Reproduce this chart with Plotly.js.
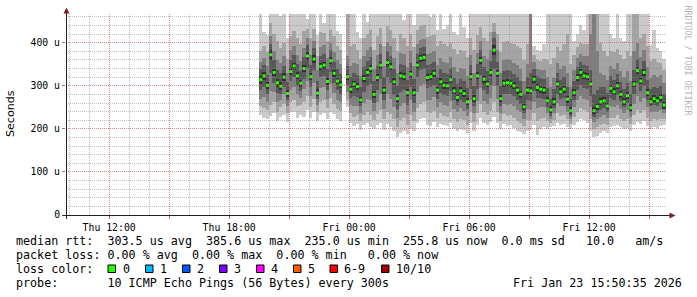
<!DOCTYPE html>
<html><head><meta charset="utf-8">
<script src="https://cdn.plot.ly/plotly-3.0.1.min.js"></script>
<style>html,body{margin:0;padding:0;background:#fff;}#chart{width:697px;height:297px;}</style>
</head><body><div id="chart"></div>
<script>
// 10-minute steps, first step centred on Thu 2026-01-22 19:35
const firstStep = '2026-01-22T19:35:00Z';
const stepMinutes = 10;

// sorted ping values (microseconds), ping1 = lowest ... ping10 = highest
const ping1 = [232,226,222,230,236,219,228,232,216,238, 240,226,232,228,244,226,238,218,232,236, 222,240,234,222,218,null,250,214,206,212,
 198,208,214,204,200,210,214,198,212,204, 196,182,190,196,188,200,196,214,222,226, 210,206,216,204,212,208,206,214,200,194,
 200,198,190,214,196,210,226,214,208,216, 228,214,200,212,206,208,202,196,192,188, 196,198,210,186,200,204,200,204,206,214,
 210,212,204,200,208,216,222,220,214,196, 180,184,190,194,190,204,206,210,204,200, 202,196,210,216,212,218,206,200,204,202, 206,208];
const ping2 = [252,248,244,256,262,240,250,258,236,262, 268,252,255,262,276,250,270,238,262,266, 248,272,258,246,242,null,268,236,228,232,
 218,232,240,232,220,234,244,222,240,234, 222,204,220,226,210,232,218,248,258,262, 238,236,242,226,236,230,228,238,222,216,
 224,220,210,240,216,236,258,238,232,242, 262,240,218,234,230,232,226,218,214,206, 220,220,236,218,224,226,218,214,220,236,
 230,232,222,212,228,240,248,244,240,222, 200,204,210,212,208,226,226,232,224,218, 222,212,232,244,236,244,226,218,222,220, 224,222];
const ping3 = [270,275,262,288,286,262,268,280,252,290, 298,280,272,292,312,276,306,256,294,296, 270,304,284,268,262,null,286,256,252,254,
 236,260,270,266,242,262,280,246,280,270, 250,226,254,260,234,266,240,286,300,304, 268,266,274,250,262,256,254,264,246,238,
 248,242,230,266,236,264,294,264,258,272, 300,270,236,258,256,258,252,244,238,222, 246,244,262,248,250,250,236,222,236,260,
 252,254,240,222,250,266,276,270,266,250, 216,222,228,232,226,252,250,256,246,236, 244,228,258,276,262,272,250,238,240,238, 244,236];
const ping4 = [290,296,282,330,306,284,282,298,266,310, 320,300,288,316,342,298,336,270,320,322, 290,332,306,290,280,null,302,272,276,274,
 252,286,300,304,260,290,316,266,320,306, 278,246,286,290,256,296,260,320,336,338, 294,296,302,270,284,278,276,288,266,256,
 268,262,246,292,254,292,326,290,282,302, 340,300,252,282,280,282,276,266,258,236, 268,264,288,272,272,270,250,230,248,282,
 270,272,254,230,268,290,302,294,292,276, 228,236,244,248,240,272,268,278,264,250, 260,238,280,306,288,300,268,252,256,252, 260,246];
const ping5 = [305,314,293,360,322,298,291,311,275,324, 338,315,298,332,360,313,353,276,337,340, 302,350,321,303,294,null,314,284,296,290,
 260,309,323,332,272,311,340,282,346,336, 301,262,315,313,276,319,276,340,356,358, 311,313,321,282,301,293,292,306,280,265,
 280,274,255,313,262,315,351,307,296,323, 372,321,262,298,299,298,292,282,272,244, 282,280,307,288,284,282,257,236,255,296,
 278,284,261,234,276,311,323,315,313,296, 234,244,255,257,245,286,278,292,272,255, 269,241,296,327,303,323,276,255,262,257, 265,247];
const ping6 = [322,331,309,382,340,316,308,329,290,342, 354,331,314,348,378,329,371,292,353,356, 318,366,337,319,310,null,328,300,312,306,
 275,325,339,348,288,327,356,298,362,352, 317,278,331,329,292,335,292,356,372,374, 327,329,337,298,317,309,308,322,296,281,
 296,290,271,329,278,331,367,323,312,339, 394,337,278,314,315,314,308,298,288,258, 298,296,323,304,300,298,273,252,271,312,
 294,300,277,250,292,327,339,331,329,312, 250,260,271,273,261,302,294,308,288,271, 285,257,312,343,319,339,292,271,278,273, 281,263];
const ping7 = [338,348,326,398,360,336,330,346,308,360, 372,350,334,366,394,348,388,312,370,374, 338,382,356,338,328,null,346,320,330,326,
 296,344,358,366,310,346,374,320,380,370, 338,300,350,348,314,354,316,374,388,390, 348,350,356,320,338,330,328,342,318,304,
 316,312,294,348,300,350,384,344,334,358, 410,356,300,334,336,334,328,320,310,280, 320,330,340,322,318,316,294,270,292,330,
 314,320,298,270,312,344,356,348,346,336, 280,290,296,296,284,322,314,328,308,292, 306,280,336,362,340,358,314,292,298,294, 300,282];
const ping8 = [356,365,347,415,380,360,352,368,330,382, 392,372,358,388,410,372,404,336,390,394, 364,400,378,360,350,null,368,346,354,350,
 322,370,382,390,338,372,396,346,402,392, 364,330,376,374,344,380,346,396,406,408, 374,376,380,348,364,356,354,366,344,332,
 342,338,322,372,330,376,404,370,362,384, 424,382,330,360,362,360,354,348,340,310, 350,470,356,340,336,336,320,296,318,352,
 338,346,330,298,336,364,374,368,368,420, 470,380,330,326,314,346,340,352,334,320, 334,312,380,400,366,382,344,318,324,320, 324,306];
const ping9 = [380,392,378,445,420,405,388,400,362,415, 428,410,396,426,432,412,432,370,424,422, 405,430,415,392,384,null,470,392,398,384,
 362,412,420,430,384,416,434,392,438,430, 410,380,420,412,392,420,390,430,438,440, 414,416,418,392,404,396,392,400,386,374,
 384,380,366,410,384,418,436,412,404,424, 446,420,378,402,404,400,396,392,388,360, 396,470,372,360,358,362,360,350,364,390,
 380,396,420,350,372,390,400,396,398,470, 470,470,400,380,370,380,378,386,372,362, 380,370,470,470,410,420,392,358,362,356, 354,336];
const ping10 = [470,425,418,470,470,470,462,470,410,470, 470,470,470,470,455,470,470,418,470,446, 470,470,470,428,420,null,470,470,470,425,
 412,470,448,470,470,470,470,470,470,470, 470,470,470,452,470,470,440,470,470,470, 470,460,470,430,470,432,440,470,424,418,
 470,436,412,470,470,470,470,470,470,470, 470,470,470,470,470,470,470,470,470,470, 470,470,392,384,380,396,470,470,470,470,
 470,470,470,470,404,420,440,430,470,470, 470,470,470,470,470,420,412,470,410,404, 470,470,470,470,470,470,470,394,430,388, 380,362];
const median = [314,323,301,372,331,307,299,320,282,333, 346,323,306,340,369,321,362,283,345,348, 310,358,329,311,302,null,321,292,304,298,
 267,317,331,340,280,319,348,290,354,344, 309,270,323,321,284,327,284,348,364,366, 319,321,329,290,309,301,300,314,288,273,
 288,282,263,321,270,323,359,315,304,331, 383,329,270,306,307,306,300,290,280,251, 290,288,315,296,292,290,265,244,263,304,
 286,292,269,242,284,319,331,323,321,304, 242,252,263,265,253,294,286,300,280,263, 277,249,304,335,311,331,284,263,270,265, 273,255];

const xTickVals = ['2026-01-22 12:00','2026-01-22 15:00','2026-01-22 18:00','2026-01-22 21:00','2026-01-23 00:00',
  '2026-01-23 03:00','2026-01-23 06:00','2026-01-23 09:00','2026-01-23 12:00','2026-01-23 15:00'];
const xTickText = ['Thu 12:00','','Thu 18:00','','Fri 00:00','','Fri 06:00','','Fri 12:00',''];
const yTickVals = [0,100,200,300,400];
const yTickText = ['0','100 u','200 u','300 u','400 u'];

const lossLabels = ['0','1','2','3','4','5','6-9','10/10'];
const lossColors = ['#26ff00','#00b8ff','#0059ff','#7e00ff','#ff00ff','#ff5e00','#ff0000','#a10000'];
const bandColors = ['#cacaca','#a4a4a4','#7e7e7e','#585858','#323232'];

const legendRow1 = 'median rtt:  303.5 us avg  385.6 us max  235.0 us min  255.8 us now  0.0 ms sd   10.0   am/s';
const legendRow2 = 'packet loss: 0.00 % avg  0.00 % max  0.00 % min   0.00 % now';
const legendRow4 = 'probe:       10 ICMP Echo Pings (56 Bytes) every 300s';
const stampText = 'Fri Jan 23 15:50:35 2026';

// ---------- build ----------
const STEP = stepMinutes * 60000;
const t0 = Date.parse(firstStep);
const times = median.map((_, k) => new Date(t0 + k * STEP).toISOString().slice(0, 19).replace('T', ' '));
const pings = [ping1, ping2, ping3, ping4, ping5, ping6, ping7, ping8, ping9, ping10];
const X_RANGE = ['2026-01-22 09:50:35', '2026-01-23 15:50:35'];
const Y_RANGE = [0, 466.6];

const traces = [];
for (let i = 0; i < 5; i++) {
  const lo = pings[i], hi = pings[9 - i];
  traces.push({
    type: 'bar', x: times, base: lo,
    y: hi.map((h, k) => (h == null || lo[k] == null) ? null : h - lo[k]),
    width: STEP, marker: {color: bandColors[i], line: {width: 0}},
    hoverinfo: 'skip'
  });
}
traces.push({
  type: 'scatter', mode: 'markers', x: times, y: median,
  marker: {symbol: 'square', size: 3, color: lossColors[0], line: {width: 0}},
  hoverinfo: 'skip'
});
// empty trace on the grid-only subplot drawn above the smoke
traces.push({type: 'scatter', mode: 'markers', x: [], y: [], xaxis: 'x2', yaxis: 'y2', hoverinfo: 'skip'});

const L = 66, T = 14, W = 600, H = 201;
const xp = px => (px - L) / W;
const yp = py => (T + H - py) / H;
const nb = s => s.replace(/ /g, '\u00a0');
const MONO = 'DejaVu Sans Mono';
function ann(text, px, py, o) {
  return Object.assign({xref: 'paper', yref: 'paper', x: xp(px), y: yp(py), text: nb(text),
    showarrow: false, xanchor: 'left', yanchor: 'middle', borderpad: 0, borderwidth: 0,
    font: {family: MONO, size: 11.7, color: '#000'}}, o || {});
}

const annotations = [
  ann(legendRow1, 15.5, 241.4),
  ann(legendRow2, 15.5, 255.4),
  ann('loss color:', 15.5, 269.4),
  ann(legendRow4, 15.5, 283.4),
  ann(stampText, 512.5, 283.4),
  ann('Seconds', 11, 114, {xanchor: 'center', textangle: -90, font: {family: 'DejaVu Sans', size: 11.1, color: '#000'}}),
  ann('RRDTOOL / TOBI OETIKER', 687.5, 60, {xanchor: 'center', textangle: 90, font: {family: MONO, size: 8.3, color: '#b4b4b4'}})
];
const boxX = [108, 145.5, 182.5, 219.5, 256.5, 293.5, 330, 381.5];
const labX = [122.5, 160, 196.5, 233.5, 271, 307.5, 344.2, 396];
const shapes = [];
lossLabels.forEach((lab, i) => {
  shapes.push({type: 'rect', xref: 'paper', yref: 'paper', layer: 'above',
    x0: xp(boxX[i]), x1: xp(boxX[i] + 7.5), y0: yp(265), y1: yp(272.5),
    fillcolor: lossColors[i], line: {color: '#000', width: 1}});
  annotations.push(ann(lab, labX[i], 269.4));
});
const AX = '#202020', ARROW = '#801f1f';
shapes.push({type: 'line', xref: 'paper', yref: 'paper', layer: 'above', x0: xp(66.5), x1: xp(66.5), y0: yp(219), y1: yp(12), line: {color: AX, width: 1}});
shapes.push({type: 'line', xref: 'paper', yref: 'paper', layer: 'above', x0: xp(62.5), x1: xp(670), y0: yp(215.5), y1: yp(215.5), line: {color: AX, width: 1}});
shapes.push({type: 'path', xref: 'paper', yref: 'paper', layer: 'above', fillcolor: ARROW, line: {width: 0},
  path: `M ${xp(66.5)},${yp(7.5)} L ${xp(63.5)},${yp(13.5)} L ${xp(69.5)},${yp(13.5)} Z`});
shapes.push({type: 'path', xref: 'paper', yref: 'paper', layer: 'above', fillcolor: ARROW, line: {width: 0},
  path: `M ${xp(675.5)},${yp(215.5)} L ${xp(669.5)},${yp(212.5)} L ${xp(669.5)},${yp(218.5)} Z`});

const GRID = 'rgba(140,140,140,0.55)', MGRID = 'rgba(222,79,79,0.45)';
const tickFont = {family: MONO, size: 9.8, color: '#000'};
const layout = {
  width: 697, height: 297,
  margin: {l: L, r: 697 - L - W, t: T, b: 297 - T - H, pad: 0},
  paper_bgcolor: '#fff', plot_bgcolor: 'rgba(0,0,0,0)',
  showlegend: false, hovermode: false,
  barmode: 'overlay', bargap: 0,
  xaxis: {
    type: 'date', range: X_RANGE, domain: [0, 1], anchor: 'y',
    tickmode: 'array', tickvals: xTickVals, ticktext: xTickText,
    ticks: 'outside', ticklen: 3, tickcolor: '#c06060', tickwidth: 1, tickfont: tickFont,
    showgrid: false, zeroline: false, showline: false, fixedrange: true
  },
  yaxis: {
    range: Y_RANGE, domain: [0, 1], anchor: 'x',
    tickmode: 'array', tickvals: yTickVals, ticktext: yTickText,
    ticks: 'outside', ticklen: 3, tickcolor: '#c06060', tickwidth: 1, tickfont: tickFont,
    showgrid: false, zeroline: false, showline: false, fixedrange: true
  },
  // grid-only axes on the same area, drawn above the smoke like rrdtool does
  xaxis2: {
    type: 'date', range: X_RANGE, domain: [0, 1], anchor: 'y2',
    tickmode: 'array', tickvals: xTickVals, showticklabels: false, ticks: '',
    showgrid: true, gridcolor: MGRID, griddash: '1px,1px', gridwidth: 1,
    minor: {tick0: '2026-01-22 00:00:00', dtick: 3600000, showgrid: true, gridcolor: GRID, griddash: '1px,1px', gridwidth: 1, ticks: ''},
    zeroline: false, showline: false, fixedrange: true
  },
  yaxis2: {
    range: Y_RANGE, domain: [0, 1], anchor: 'x2',
    tickmode: 'array', tickvals: [100, 200, 300, 400], showticklabels: false, ticks: '',
    showgrid: true, gridcolor: MGRID, griddash: '1px,1px', gridwidth: 1,
    minor: {tick0: 0, dtick: 20, showgrid: true, gridcolor: GRID, griddash: '1px,1px', gridwidth: 1, ticks: ''},
    zeroline: false, showline: false, fixedrange: true
  },
  shapes: shapes,
  annotations: annotations
};
Plotly.newPlot('chart', traces, layout, {displayModeBar: false, staticPlot: true});
</script></body></html>
